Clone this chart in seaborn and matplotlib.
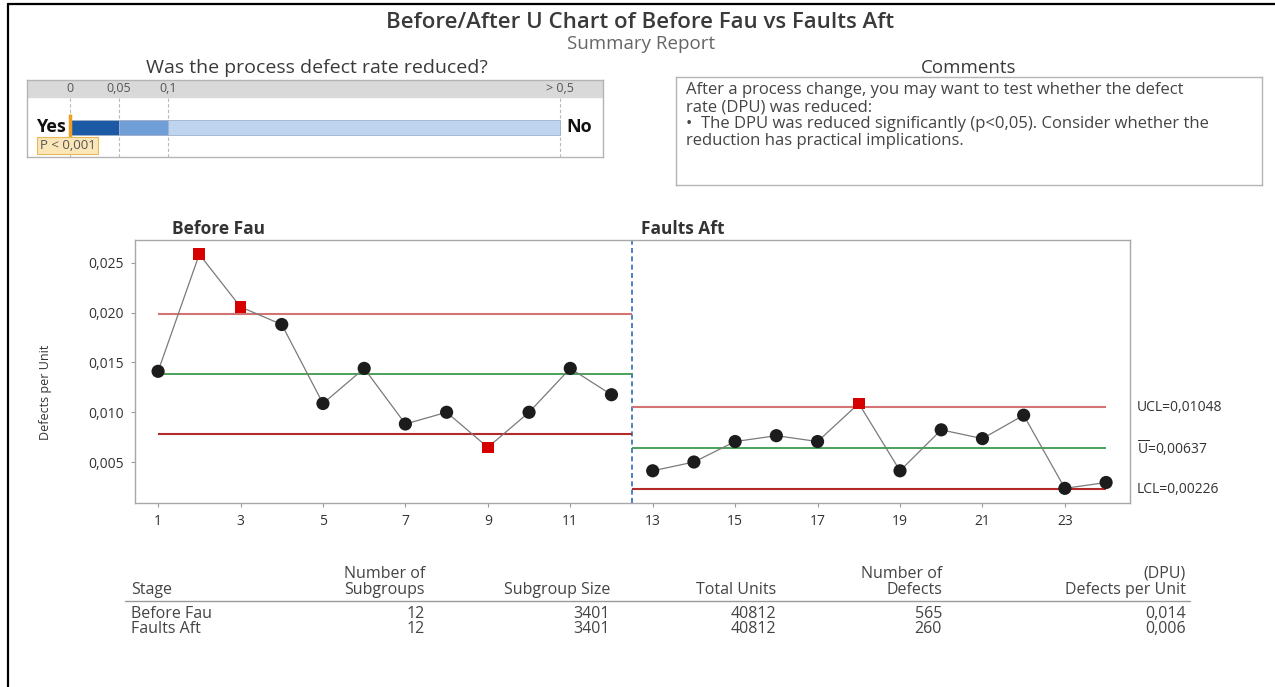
import numpy as np
import pandas as pd
import matplotlib
matplotlib.use("Agg")
import matplotlib.pyplot as plt
import matplotlib.transforms as mtransforms
from matplotlib.lines import Line2D
from matplotlib.ticker import FuncFormatter, FixedLocator
import seaborn as sns

# ---------------- data ----------------
stages = ["Before Fau", "Faults Aft"]
before_defects = [48, 88, 70, 64, 37, 49, 30, 34, 22, 34, 49, 40]
after_defects = [14, 17, 24, 26, 24, 37, 14, 28, 25, 33, 8, 10]
subgroup_size = [3401, 3401]
n_subgroups = [12, 12]
total_units = [40812, 40812]
total_defects = [565, 260]
dpu_labels = ["0,014", "0,006"]
ucl = [0.01990, 0.01048]
center = [0.01384, 0.00637]
lcl = [0.00779, 0.00226]
x_ticks = [1, 3, 5, 7, 9, 11, 13, 15, 17, 19, 21, 23]
y_ticks = [0.005, 0.010, 0.015, 0.020, 0.025]
p_thresholds = [0.0, 0.05, 0.1, 0.5]
p_labels = ["0", "0,05", "0,1", "> 0,5"]
p_value = 0.0005  # P < 0,001
comment_lines = [
    "After a process change, you may want to test whether the defect",
    "rate (DPU) was reduced:",
    "\u2022  The DPU was reduced significantly (p<0,05). Consider whether the",
    "reduction has practical implications.",
]

# ---------------- style ----------------
sns.set_theme(style="white")
FONT = "Open Sans"
plt.rcParams["font.family"] = [FONT, "DejaVu Sans"]
plt.rcParams["mathtext.fontset"] = "custom"
plt.rcParams["mathtext.rm"] = FONT
plt.rcParams["mathtext.it"] = FONT

W, H = 1275, 687
fig = plt.figure(figsize=(W / 100, H / 100), dpi=100)
fig.patch.set_facecolor("white")


def fx(px):
    return px / W


def fy(py):
    return 1 - py / H


# figure border (top + left)
fig.add_artist(Line2D([fx(8), 1], [fy(4), fy(4)], color="black", lw=1.6, transform=fig.transFigure))
fig.add_artist(Line2D([fx(8), fx(8)], [0, fy(4)], color="black", lw=1.6, transform=fig.transFigure))

# titles
fig.text(fx(640), fy(22), "Before/After U Chart of Before Fau vs Faults Aft", ha="center", va="center",
         fontsize=16, fontweight="semibold", color="#3a3a3a")
fig.text(fx(641), fy(44), "Summary Report", ha="center", va="center", fontsize=13.5, color="#666666")
fig.text(fx(317), fy(68), "Was the process defect rate reduced?", ha="center", va="center",
         fontsize=14, color="#3a3a3a")
fig.text(fx(969), fy(68), "Comments", ha="center", va="center", fontsize=13.5, color="#3a3a3a")

# ---------------- gauge ----------------
axg = fig.add_axes([fx(27), fy(157), (603 - 27) / W, (157 - 80) / H])
axg.set_xlim(-43 / 980, 533 / 980)
axg.set_ylim(0, 1)
axg.set_xticks([])
axg.set_yticks([])
for s in axg.spines.values():
    s.set_color("#b4b4b4")
    s.set_linewidth(1)
axg.axhspan(0.78, 1.0, color="#d9d9d9", zorder=0)
axg.vlines(p_thresholds, 0, 0.78, colors="#b8b8b8", linestyles=(0, (3, 2)), lw=0.8, zorder=1)
seg_left = p_thresholds[:-1]
seg_width = list(np.diff(p_thresholds))
seg_colors = ["#1d5aa5", "#6f9fd6", "#bfd4ee"]
axg.barh([0.385] * 3, seg_width, left=seg_left, height=0.19, color=seg_colors,
         edgecolor="#9fb0c8", linewidth=0.6, zorder=2)
for p, lab in zip(p_thresholds, p_labels):
    axg.text(p, 0.89, lab, ha="center", va="center", fontsize=9, color="#555555")
axg.text(-0.004, 0.385, "Yes", ha="right", va="center", fontsize=13, fontweight="bold", color="#111111")
axg.text(0.507, 0.385, "No", ha="left", va="center", fontsize=13, fontweight="bold", color="#111111")
axg.vlines(p_value, 0.22, 0.56, colors="#f0a020", lw=2.5, zorder=3)
axg.text(-0.031, 0.15, "P < 0,001", ha="left", va="center", fontsize=9.5, color="#555555", zorder=4,
         bbox=dict(boxstyle="square,pad=0.18", fc="#fbe6b8", ec="#e9b85a", lw=0.8))

# ---------------- comments ----------------
axc = fig.add_axes([fx(676), fy(185), (1262 - 676) / W, (185 - 77) / H])
axc.set_xticks([])
axc.set_yticks([])
for s in axc.spines.values():
    s.set_color("#b4b4b4")
    s.set_linewidth(1)
for i, line in enumerate(comment_lines):
    axc.text(0.017, 0.875 - i * 0.155, line, ha="left", va="center", fontsize=12, color="#444444",
             transform=axc.transAxes)

# ---------------- control chart ----------------
rows = []
start = 1
for st, defects, n in zip(stages, [before_defects, after_defects], subgroup_size):
    for i, d in enumerate(defects):
        rows.append({"stage": st, "subgroup": start + i, "u": d / n})
    start += len(defects)
df = pd.DataFrame(rows)
stage_idx = df["stage"].map({s: i for i, s in enumerate(stages)})
df["out"] = (df["u"] > stage_idx.map(lambda k: ucl[k])) | (df["u"] < stage_idx.map(lambda k: lcl[k]))

ax = fig.add_axes([fx(135), fy(503), (1130 - 135) / W, (503 - 240) / H])
ax.set_facecolor("white")

sns.lineplot(data=df, x="subgroup", y="u", hue="stage", palette=["#7a7a7a", "#7a7a7a"],
             estimator=None, legend=False, lw=0.9, ax=ax, zorder=3)
sns.scatterplot(data=df[~df["out"]], x="subgroup", y="u", color="#1c1c1c", marker="o", s=90,
                edgecolor="none", legend=False, ax=ax, zorder=4)
sns.scatterplot(data=df[df["out"]], x="subgroup", y="u", color="#d60000", marker="s", s=70,
                edgecolor="none", legend=False, ax=ax, zorder=4)

# stage boundaries
bounds = []
for st in stages:
    sub = df[df["stage"] == st]["subgroup"]
    bounds.append((sub.min(), sub.max()))
split = (bounds[0][1] + bounds[1][0]) / 2
seg_x = [(bounds[0][0], split), (split, bounds[1][1])]
for k in range(2):
    x0, x1 = seg_x[k]
    ax.hlines(ucl[k], x0, x1, colors="#d27474", lw=1.5, zorder=2)
    ax.hlines(center[k], x0, x1, colors="#3c9a4c", lw=1.3, zorder=2)
    ax.hlines(lcl[k], x0, x1, colors="#b42a2a", lw=1.5, zorder=2)
ax.axvline(split, color="#2f6db5", lw=1.2, ls=(0, (3, 2)), zorder=1)

XL = (0.44, 24.58)
ax.set_xlim(*XL)
ax.set_ylim(0.00088, 0.02731)
ax.xaxis.set_major_locator(FixedLocator(x_ticks))
ax.yaxis.set_major_locator(FixedLocator(y_ticks))
ax.yaxis.set_major_formatter(FuncFormatter(lambda v, p: f"{v:.3f}".replace(".", ",")))
ax.tick_params(axis="both", which="major", bottom=True, left=True, length=3, width=0.8,
               color="#9a9a9a", labelsize=10, labelcolor="#333333", pad=5)
for s in ax.spines.values():
    s.set_color("#a8a8a8")
    s.set_linewidth(1)
ax.set_xlabel("")
ax.set_ylabel("Defects per Unit", fontsize=9, color="#333333")
ax.yaxis.set_label_coords(-0.083, 0.42)

ax.text(0.037, 1.008, stages[0], transform=ax.transAxes, ha="left", va="bottom", fontsize=12.5,
        fontweight="bold", color="#333333")
ax.text((split - XL[0]) / (XL[1] - XL[0]) + 0.009, 1.008, stages[1], transform=ax.transAxes,
        ha="left", va="bottom", fontsize=12.5, fontweight="bold", color="#333333")

blend = mtransforms.blended_transform_factory(ax.transAxes, ax.transData)


def fmt5(v):
    return f"{v:.5f}".replace(".", ",")


ax.text(1.007, ucl[1], "UCL=" + fmt5(ucl[1]), transform=blend, ha="left", va="center", fontsize=10,
        color="#333333")
ax.text(1.007, center[1], r"$\overline{\mathrm{U}}$=" + fmt5(center[1]), transform=blend, ha="left",
        va="center", fontsize=10, color="#333333")
ax.text(1.007, lcl[1], "LCL=" + fmt5(lcl[1]), transform=blend, ha="left", va="center", fontsize=10,
        color="#333333")

# ---------------- table ----------------
hdr_color = "#444444"
fs_tab = 11.5
col_right = [425, 610, 776, 942, 1186]
hdr1 = ["Number of", "", "", "Number of", "(DPU)"]
hdr2 = ["Subgroups", "Subgroup Size", "Total Units", "Defects", "Defects per Unit"]
fig.text(fx(131), fy(590), "Stage", ha="left", va="center", fontsize=fs_tab, color=hdr_color)
for xr, a, b in zip(col_right, hdr1, hdr2):
    if a:
        fig.text(fx(xr), fy(574), a, ha="right", va="center", fontsize=fs_tab, color=hdr_color)
    fig.text(fx(xr), fy(590), b, ha="right", va="center", fontsize=fs_tab, color=hdr_color)
fig.add_artist(Line2D([fx(125), fx(1190)], [fy(601), fy(601)], color="#9a9a9a", lw=1,
                      transform=fig.transFigure))
for r, (st, ns, sz, tu, td, dl) in enumerate(zip(stages, n_subgroups, subgroup_size, total_units,
                                                 total_defects, dpu_labels)):
    yy = fy(614 + 15 * r)
    fig.text(fx(131), yy, st, ha="left", va="center", fontsize=fs_tab, color=hdr_color)
    for xr, val in zip(col_right, [ns, sz, tu, td, dl]):
        fig.text(fx(xr), yy, str(val), ha="right", va="center", fontsize=fs_tab, color=hdr_color)

fig.savefig("out.png", dpi=100, facecolor="white")
